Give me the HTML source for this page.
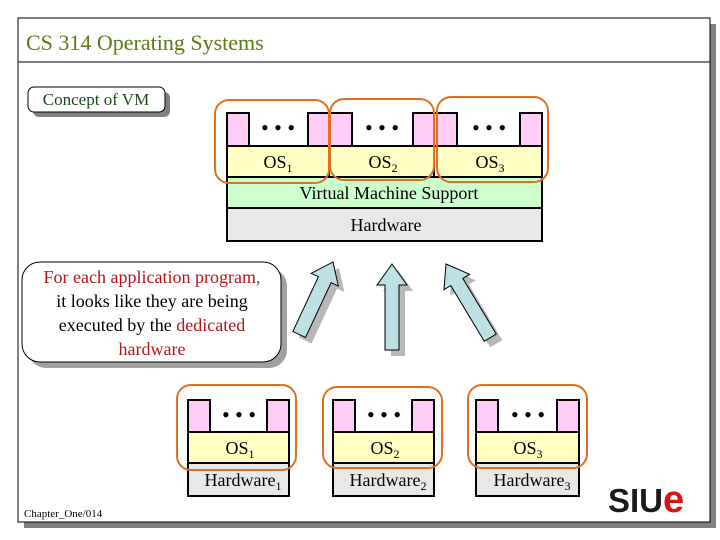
<!DOCTYPE html>
<html><head><meta charset="utf-8"><style>
html,body{margin:0;padding:0;background:#fff;}
svg{display:block;font-family:"Liberation Serif",serif;}
</style></head><body>
<svg width="720" height="540" viewBox="0 0 720 540" xmlns="http://www.w3.org/2000/svg">
<rect x="24" y="24" width="692" height="504" fill="#808080"/>
<rect x="18" y="18" width="692" height="504" fill="#fff" stroke="#000" stroke-width="1"/>
<line x1="18" y1="62" x2="710" y2="62" stroke="#000"/>
<text x="26" y="50" font-size="22" fill="#5a7a14">CS 314 Operating Systems</text>
<rect x="33" y="92" width="137" height="25" rx="6" fill="#808080"/>
<rect x="28" y="87" width="137" height="25" rx="6" fill="#fff" stroke="#000"/>
<text x="96" y="105" font-size="17" text-anchor="middle" fill="#1e4a1e">Concept of VM</text>

<!-- top diagram -->
<g stroke="#000" stroke-width="2">
<rect x="227" y="177" width="315" height="31" fill="#ccffcc"/>
<rect x="227" y="208" width="315" height="33" fill="#e8e8e8"/>
<rect x="227" y="146" width="315" height="31" fill="#ffffc4"/>
<line x1="329" y1="146" x2="329" y2="177"/><line x1="434" y1="146" x2="434" y2="177"/>
<rect x="227" y="113" width="22" height="33" fill="#ffccf5"/>
<rect x="308" y="113" width="21" height="33" fill="#ffccf5"/>
<rect x="329" y="113" width="23" height="33" fill="#ffccf5"/>
<rect x="413" y="113" width="21" height="33" fill="#ffccf5"/>
<rect x="434" y="113" width="23" height="33" fill="#ffccf5"/>
<rect x="520" y="113" width="22" height="33" fill="#ffccf5"/>
</g>
<g font-size="22" text-anchor="middle"><text x="278" y="135">• • •</text><text x="382" y="135">• • •</text><text x="489" y="135">• • •</text></g>
<g font-size="18" text-anchor="middle">
<text x="278" y="168">OS<tspan font-size="12" dy="4">1</tspan></text>
<text x="383" y="168">OS<tspan font-size="12" dy="4">2</tspan></text>
<text x="490" y="168">OS<tspan font-size="12" dy="4">3</tspan></text>
<text x="389" y="199">Virtual Machine Support</text>
<text x="386" y="231">Hardware</text>
</g>
<g fill="none" stroke="#e07020" stroke-width="2">
<rect x="215" y="100" width="114" height="83" rx="14"/>
<rect x="330" y="99" width="104" height="81" rx="14"/>
<rect x="437" y="97" width="111" height="85" rx="14"/>
</g>

<!-- callout -->
<rect x="28" y="268" width="259" height="100" rx="18" fill="#a0a0a0"/>
<rect x="22" y="262" width="259" height="100" rx="18" fill="#fff" stroke="#000"/>
<g font-size="18" text-anchor="middle">
<text x="152" y="283" fill="#b01818">For each application program<tspan fill="#2a6a2a">,</tspan></text>
<text x="152" y="307">it looks like they are being</text>
<text x="152" y="331">executed by the <tspan fill="#b01818">dedicated</tspan></text>
<text x="152" y="355" fill="#b01818">hardware</text>
</g>

<!-- arrows -->
<defs><path id="ar" d="M0,0 L15,21 L7,21 L7,86 L-7,86 L-7,21 L-15,21 Z"/></defs>
<g fill="#b8b8b8">
<use href="#ar" transform="translate(339,268) rotate(25) scale(1,0.93)"/>
<use href="#ar" transform="translate(398,270)"/>
<use href="#ar" transform="translate(452,270) rotate(-31)"/>
</g>
<g fill="#bde0e4" stroke="#000" stroke-width="1">
<use href="#ar" transform="translate(333,262) rotate(25) scale(1,0.93)"/>
<use href="#ar" transform="translate(392,264)"/>
<use href="#ar" transform="translate(446,264) rotate(-31)"/>
</g>

<!-- bottom groups -->
<g stroke="#000" stroke-width="2">
<rect x="188" y="463" width="101" height="33" fill="#e8e8e8"/>
<rect x="188" y="432" width="101" height="31" fill="#ffffc4"/>
<rect x="188" y="400" width="22" height="32" fill="#ffccf5"/>
<rect x="267" y="400" width="22" height="32" fill="#ffccf5"/>
<rect x="333" y="463" width="101" height="33" fill="#e8e8e8"/>
<rect x="333" y="432" width="101" height="31" fill="#ffffc4"/>
<rect x="333" y="400" width="22" height="32" fill="#ffccf5"/>
<rect x="412" y="400" width="22" height="32" fill="#ffccf5"/>
<rect x="476" y="463" width="103" height="33" fill="#e8e8e8"/>
<rect x="476" y="432" width="103" height="31" fill="#ffffc4"/>
<rect x="476" y="400" width="22" height="32" fill="#ffccf5"/>
<rect x="557" y="400" width="22" height="32" fill="#ffccf5"/>
</g>
<g font-size="22" text-anchor="middle"><text x="239" y="422">• • •</text><text x="384" y="422">• • •</text><text x="528" y="422">• • •</text></g>
<g font-size="18" text-anchor="middle">
<text x="240" y="454">OS<tspan font-size="12" dy="4">1</tspan></text>
<text x="385" y="454">OS<tspan font-size="12" dy="4">2</tspan></text>
<text x="528" y="454">OS<tspan font-size="12" dy="4">3</tspan></text>
<text x="243" y="486">Hardware<tspan font-size="12" dy="4">1</tspan></text>
<text x="388" y="486">Hardware<tspan font-size="12" dy="4">2</tspan></text>
<text x="532" y="486">Hardware<tspan font-size="12" dy="4">3</tspan></text>
</g>
<g fill="none" stroke="#e07020" stroke-width="2">
<rect x="177" y="385" width="119" height="85" rx="14"/>
<rect x="323" y="387" width="119" height="81" rx="14"/>
<rect x="468" y="385" width="119" height="83" rx="14"/>
</g>

<text x="24" y="517" font-size="11">Chapter_One/014</text>
<text x="608" y="512" font-family="'Liberation Sans',sans-serif" font-size="33" font-weight="bold" fill="#1a1a1a">SIU<tspan fill="#e01010" font-size="38">e</tspan></text>
</svg>
</body></html>
